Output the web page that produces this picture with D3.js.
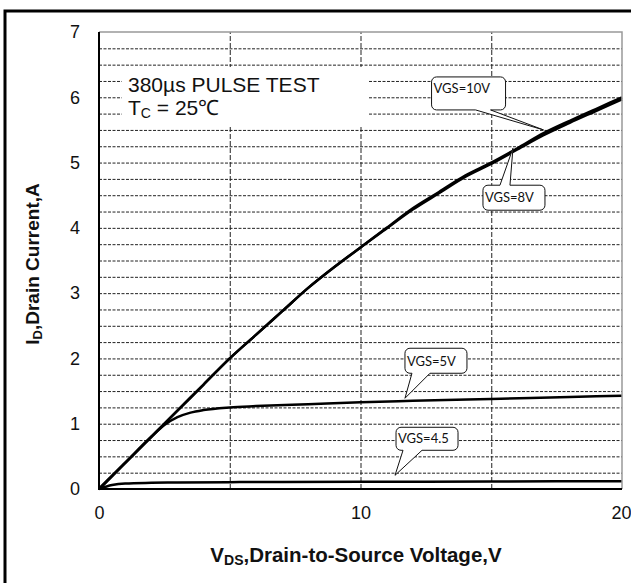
<!DOCTYPE html>
<html>
<head>
<meta charset="utf-8">
<script src="https://cdn.jsdelivr.net/npm/d3@7"></script>
<style>
  body { margin: 0; background: #fff; }
  svg { display: block; }
</style>
</head>
<body>
<div id="chart"></div>
<script>
// drain current curves
var vdsMain = [0, 1, 2, 3, 4, 5, 6, 7, 8, 9, 10, 11, 12, 13, 14, 15, 16, 17, 18, 19, 20];
var id10V = [0, 0.4, 0.8, 1.2, 1.6, 2.0, 2.36, 2.72, 3.08, 3.4, 3.7, 4.0, 4.3, 4.55, 4.8, 5.0, 5.22, 5.45, 5.64, 5.82, 6.0];
var id8V = [0, 0.4, 0.8, 1.2, 1.6, 2.0, 2.36, 2.72, 3.08, 3.4, 3.7, 3.99, 4.28, 4.53, 4.78, 4.98, 5.2, 5.42, 5.61, 5.79, 5.97];
var vds5V = [0, 1, 2, 2.5, 3, 3.5, 4, 5, 6, 8, 10, 12, 15, 18, 20];
var id5V = [0, 0.4, 0.8, 0.98, 1.1, 1.17, 1.21, 1.25, 1.27, 1.3, 1.33, 1.35, 1.38, 1.41, 1.43];
var vds45 = [0, 0.5, 1, 2, 3, 5, 10, 15, 20];
var id45 = [0, 0.06, 0.085, 0.095, 0.1, 0.105, 0.11, 0.115, 0.12];

var xTicks = [0, 10, 20];
var yTicks = [0, 1, 2, 3, 4, 5, 6, 7];
var xGrid = [5, 10, 15];

// callout labels and the point each one points at
var calloutLabels = ['VGS=10V', 'VGS=8V', 'VGS=5V', 'VGS=4.5'];
var calloutVds = [17.0, 15.83, 11.7, 11.32];
var calloutId = [5.5, 5.22, 1.39, 0.21];

var W = 631, H = 583;
var pLeft = 99, pRight = 622, pTop = 32, pBottom = 489;

var svg = d3.select('#chart').append('svg')
	.attr('width', W)
	.attr('height', H);

var x = d3.scaleLinear().domain([0, 20]).range([pLeft, pRight]);
var y = d3.scaleLinear().domain([0, 7]).range([pBottom, pTop]);

// grid
var hGrid = d3.range(0.25, 7, 0.25);
svg.append('g')
	.attr('class', 'hgrid')
	.attr('transform', 'translate(' + pLeft + ',0)')
	.call(d3.axisLeft(y).tickValues(hGrid).tickSize(-(pRight - pLeft)).tickFormat(''))
	.call(function(g){
		g.select('.domain').remove();
		g.selectAll('line').attr('stroke', '#222').attr('stroke-width', 1).attr('stroke-dasharray', '3,1.5');
	});
svg.append('g')
	.attr('class', 'vgrid')
	.attr('transform', 'translate(0,' + pBottom + ')')
	.call(d3.axisBottom(x).tickValues(xGrid).tickSize(-(pBottom - pTop)).tickFormat(''))
	.call(function(g){
		g.select('.domain').remove();
		g.selectAll('line').attr('stroke', '#222').attr('stroke-width', 1).attr('stroke-dasharray', '5,2');
	});

// test condition note
svg.append('rect')
	.attr('x', 122).attr('y', 67)
	.attr('width', 246).attr('height', 58)
	.attr('fill', '#fff');
var note = svg.append('g')
	.attr('font-family', 'Liberation Sans, Arial, sans-serif')
	.attr('font-size', 21)
	.attr('fill', '#111');
note.append('text').attr('x', 128).attr('y', 92).text('380µs PULSE TEST');
var tc = note.append('text').attr('x', 128).attr('y', 115);
tc.append('tspan').text('T');
tc.append('tspan').attr('font-size', 14).attr('dy', 3).text('C');
tc.append('tspan').attr('dy', -3).text(' = 25℃');

// curves
var line = d3.line()
	.x(function(d){ return x(d[0]); })
	.y(function(d){ return y(d[1]); })
	.curve(d3.curveMonotoneX);

var curves = [
	d3.zip(vdsMain, id10V),
	d3.zip(vdsMain, id8V),
	d3.zip(vds5V, id5V),
	d3.zip(vds45, id45)
];
svg.append('g')
	.selectAll('path')
	.data(curves)
	.enter()
		.append('path')
			.attr('d', line)
			.attr('fill', 'none')
			.attr('stroke', '#000')
			.attr('stroke-width', 2.5);

// callout bubbles: box relative to the tip, pointer base along one edge
var calloutLayout = [
	{ dx: -112, dy: -53, w: 74, h: 33, b0: 44, b1: 59, side: 'bottom', ty: 16 },
	{ dx: -30, dy: 37, w: 62, h: 25, b0: 17, b1: 27, side: 'top', ty: 17 },
	{ dx: 0, dy: -50, w: 62, h: 25, b0: 7, b1: 25, side: 'bottom', ty: 18 },
	{ dx: 1, dy: -48, w: 62, h: 23, b0: 7, b1: 26, side: 'bottom', ty: 16 }
];

function bubblePath(tx, ty, L){
	var x0 = tx + L.dx, y0 = ty + L.dy, x1 = x0 + L.w, y1 = y0 + L.h, r = 5;
	var p = d3.path();
	p.moveTo(x0 + r, y0);
	if(L.side === 'top'){
		p.lineTo(x0 + L.b0, y0);
		p.lineTo(tx, ty);
		p.lineTo(x0 + L.b1, y0);
	}
	p.lineTo(x1 - r, y0);
	p.arcTo(x1, y0, x1, y0 + r, r);
	p.lineTo(x1, y1 - r);
	p.arcTo(x1, y1, x1 - r, y1, r);
	if(L.side === 'bottom'){
		p.lineTo(x0 + L.b1, y1);
		p.lineTo(tx, ty);
		p.lineTo(x0 + L.b0, y1);
	}
	p.lineTo(x0 + r, y1);
	p.arcTo(x0, y1, x0, y1 - r, r);
	p.lineTo(x0, y0 + r);
	p.arcTo(x0, y0, x0 + r, y0, r);
	p.closePath();
	return p.toString();
}

var callouts = svg.append('g')
	.selectAll('g')
	.data(calloutLabels)
	.enter()
		.append('g');
callouts.append('path')
	.attr('d', function(d, i){
		return bubblePath(x(calloutVds[i]), y(calloutId[i]), calloutLayout[i]);
	})
	.attr('fill', '#fff')
	.attr('stroke', '#111')
	.attr('stroke-width', 1);
callouts.append('text')
	.attr('x', function(d, i){ return x(calloutVds[i]) + calloutLayout[i].dx + 2; })
	.attr('y', function(d, i){ return y(calloutId[i]) + calloutLayout[i].dy + calloutLayout[i].ty; })
	.attr('font-family', 'Lato, sans-serif')
	.attr('font-size', 13)
	.attr('fill', '#111')
	.text(function(d){ return d; });

// axes
var yAxis = svg.append('g')
	.attr('transform', 'translate(' + pLeft + ',0)')
	.call(d3.axisLeft(y).tickValues(yTicks).tickSize(0).tickPadding(19).tickFormat(d3.format('d')));
var xAxis = svg.append('g')
	.attr('transform', 'translate(0,' + pBottom + ')')
	.call(d3.axisBottom(x).tickValues(xTicks).tickSize(0).tickPadding(17).tickFormat(d3.format('d')));
[xAxis, yAxis].forEach(function(g){
	g.select('.domain').remove();
	g.selectAll('text')
		.attr('font-family', 'Liberation Sans, Arial, sans-serif')
		.attr('font-size', 18)
		.attr('fill', '#111');
});
// last x label sits against the page edge
xAxis.selectAll('.tick text')
	.filter(function(d){ return d === 20; })
	.attr('text-anchor', 'end')
	.attr('dx', 9);

// plot frame: grey top/right, black left/bottom
svg.append('path')
	.attr('d', 'M' + pLeft + ',' + pTop + 'H' + pRight + 'V' + pBottom)
	.attr('fill', 'none')
	.attr('stroke', '#999')
	.attr('stroke-width', 1.5);
svg.append('path')
	.attr('d', 'M' + pLeft + ',' + pTop + 'V' + pBottom + 'H' + pRight)
	.attr('fill', 'none')
	.attr('stroke', '#000')
	.attr('stroke-width', 2);

// axis titles
var yTitle = svg.append('text')
	.attr('transform', 'translate(39,264) rotate(-90)')
	.attr('text-anchor', 'middle')
	.attr('font-family', 'Liberation Sans, Arial, sans-serif')
	.attr('font-weight', 'bold')
	.attr('font-size', 19)
	.attr('fill', '#111');
yTitle.append('tspan').text('I');
yTitle.append('tspan').attr('font-size', 13).attr('dy', 3).text('D');
yTitle.append('tspan').attr('dy', -3).text(',Drain Current,A');

var xTitle = svg.append('text')
	.attr('x', 356)
	.attr('y', 562)
	.attr('text-anchor', 'middle')
	.attr('font-family', 'Liberation Sans, Arial, sans-serif')
	.attr('font-weight', 'bold')
	.attr('font-size', 20.5)
	.attr('fill', '#111');
xTitle.append('tspan').text('V');
xTitle.append('tspan').attr('font-size', 14).attr('dy', 3).text('DS');
xTitle.append('tspan').attr('dy', -3).text(',Drain-to-Source Voltage,V');

// outer frame
svg.append('path')
	.attr('d', 'M5,' + H + 'V11H' + W)
	.attr('fill', 'none')
	.attr('stroke', '#000')
	.attr('stroke-width', 3);
</script>
</body>
</html>
